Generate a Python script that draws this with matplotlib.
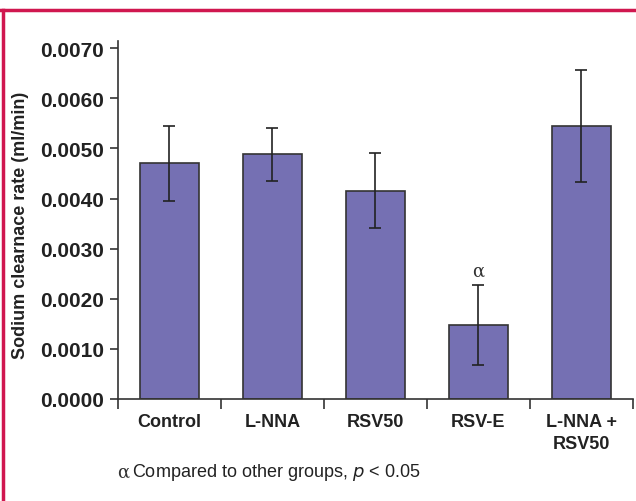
import matplotlib
matplotlib.use('Agg')
import matplotlib.pyplot as plt
from matplotlib.lines import Line2D

plt.rcParams['font.family'] = ['Liberation Sans', 'DejaVu Sans']

# group means and error bars (ml/min)
groups = ['Control', 'L-NNA', 'RSV50', 'RSV-E', 'L-NNA +\nRSV50']
means = [0.00470, 0.00488, 0.00416, 0.00148, 0.00544]
errors = [0.00075, 0.00053, 0.00074, 0.00080, 0.00112]
yticks = [0.0, 0.001, 0.002, 0.003, 0.004, 0.005, 0.006, 0.007]

bar_color = '#7570b3'
frame_color = '#d0174f'

fig = plt.figure(figsize=(6.36, 5.02), dpi=100)
ax = fig.add_axes([0.1855, 0.2032, 0.8095, 0.7138])

x = range(len(groups))
ax.bar(x, means, width=0.57, color=bar_color, edgecolor='#333333', linewidth=1.2, zorder=2)
ax.errorbar(x, means, yerr=errors, fmt='none', ecolor='#222222', elinewidth=1.2,
            capsize=4, capthick=1.2, zorder=3)

# significance marker over RSV-E
ax.text(3, means[3] + errors[3] + 0.0001, '\u03b1', ha='center', va='bottom',
        fontsize=13, family='DejaVu Serif', color='#333333')

ax.set_xlim(-0.5, 4.5)
ax.set_ylim(0, 0.00715)
ax.set_yticks(yticks)
ax.set_yticklabels([f'{v:.4f}' for v in yticks], fontsize=15, fontweight='bold', color='#222222')

# category labels between boundary ticks
ax.set_xticks([-0.5, 0.5, 1.5, 2.5, 3.5, 4.5])
ax.set_xticklabels([])
ax.tick_params(axis='x', length=7, width=1.2, color='#333333', direction='out')
ax.tick_params(axis='y', length=6, width=1.2, color='#333333', direction='out', pad=4)
for i, g in enumerate(groups):
    ax.text(i, -0.00028, g, ha='center', va='top', fontsize=13, fontweight='bold',
            color='#222222', linespacing=1.35, transform=ax.transData)

ax.spines['top'].set_visible(False)
ax.spines['right'].set_visible(False)
ax.spines['left'].set_linewidth(1.2)
ax.spines['bottom'].set_linewidth(1.2)
ax.spines['left'].set_color('#333333')
ax.spines['bottom'].set_color('#333333')

fig.text(0.032, 0.552, 'Sodium clearnace rate (ml/min)', rotation=90, ha='center', va='center',
         fontsize=13, fontweight='bold', color='#222222')

# footnote
fig.text(0.184, 0.058, '\u03b1', fontsize=13, family='DejaVu Serif', color='#333333', va='center')
fig.text(0.208, 0.058, 'Compared to other groups, $\\mathit{p}$ < 0.05', fontsize=13,
         color='#222222', va='center')

# red frame along left and top edges
fig.add_artist(Line2D([0.004, 0.004], [0, 0.978], transform=fig.transFigure,
                      color=frame_color, linewidth=2.5))
fig.add_artist(Line2D([0.002, 1], [0.978, 0.978], transform=fig.transFigure,
                      color=frame_color, linewidth=2.5))

fig.savefig('out.png', dpi=100)
